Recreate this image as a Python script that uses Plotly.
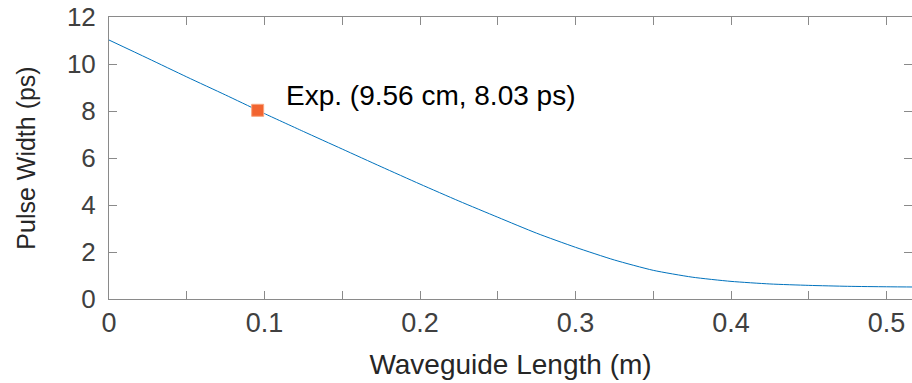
import plotly.graph_objects as go

# Simulated pulse width along the waveguide
length_m = [0.0, 0.025, 0.05, 0.075, 0.0956, 0.1, 0.125, 0.15, 0.175, 0.2,
            0.225, 0.25, 0.275, 0.3, 0.325, 0.35, 0.375, 0.4, 0.425, 0.45,
            0.475, 0.5, 0.52]
width_ps = [11.02, 10.24, 9.45, 8.68, 8.03, 7.89, 7.13, 6.38, 5.63, 4.89,
            4.17, 3.48, 2.80, 2.20, 1.66, 1.22, 0.93, 0.75, 0.64, 0.58,
            0.54, 0.52, 0.51]

# Experimental measurement
exp_x = [0.0956]
exp_y = [8.03]
exp_label = "Exp. (9.56 cm, 8.03 ps)"

FONT = "Liberation Sans, Arial, Helvetica, sans-serif"
AXIS_GRAY = "#8a8a8a"

fig = go.Figure()
fig.add_trace(go.Scatter(
    x=length_m, y=width_ps, mode="lines",
    line=dict(color="#0072BD", width=1, shape="spline", smoothing=0.6),
    hoverinfo="skip", showlegend=False,
))
fig.add_trace(go.Scatter(
    x=exp_x, y=exp_y, mode="markers",
    marker=dict(symbol="square", size=12, color="#F26430",
                line=dict(color="#F8A57F", width=1)),
    showlegend=False,
))
fig.add_annotation(
    x=exp_x[0], y=exp_y[0], text=exp_label, showarrow=False,
    xanchor="left", yanchor="middle", xshift=26, yshift=15,
    font=dict(family=FONT, size=28, color="#000000"),
)

fig.update_layout(
    width=912, height=383,
    margin=dict(l=109, r=0, t=17, b=84),
    paper_bgcolor="white", plot_bgcolor="white",
    font=dict(family=FONT),
)
fig.update_xaxes(
    range=[0, 0.5164], tickvals=[0, 0.1, 0.2, 0.3, 0.4, 0.5],
    ticktext=["0", "0.1", "0.2", "0.3", "0.4", "0.5"],
    ticks="inside", ticklen=8, tickcolor=AXIS_GRAY, tickwidth=1,
    minor=dict(tickvals=[0.05, 0.15, 0.25, 0.35, 0.45], ticks="inside",
               ticklen=8, tickcolor=AXIS_GRAY, tickwidth=1),
    showline=True, linecolor=AXIS_GRAY, linewidth=1, mirror="ticks",
    showgrid=False, zeroline=False,
    tickfont=dict(family=FONT, size=27, color="#404040"),
    title=dict(text="Waveguide Length (m)", standoff=16,
               font=dict(family=FONT, size=28, color="#262626")),
)
fig.update_yaxes(
    range=[0, 12], tickvals=[0, 2, 4, 6, 8, 10, 12],
    ticks="inside", ticklen=8, tickcolor=AXIS_GRAY, tickwidth=1,
    showline=True, linecolor=AXIS_GRAY, linewidth=1, mirror="ticks",
    showgrid=False, zeroline=False, ticklabelstandoff=7,
    tickfont=dict(family=FONT, size=26, color="#404040"),
    title=dict(text="Pulse Width (ps)", standoff=24,
               font=dict(family=FONT, size=25, color="#262626")),
)

fig.write_html("out.html")
